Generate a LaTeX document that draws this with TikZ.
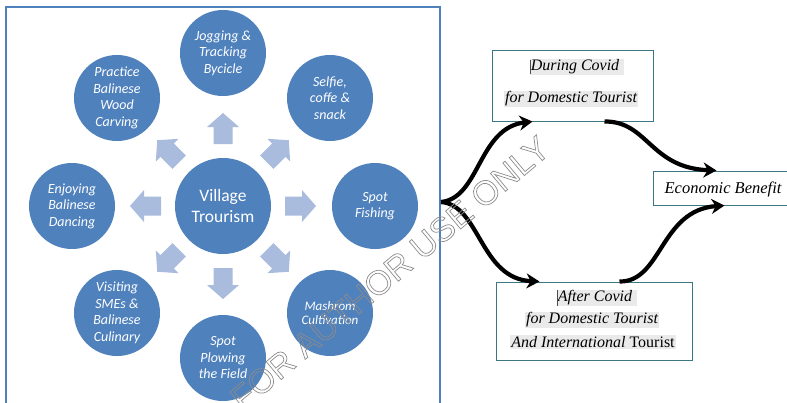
\documentclass[tikz,border=0pt]{standalone}
\usepackage{fontspec}
\setmainfont{Liberation Serif}
\newfontfamily\carl{Carlito}
\newfontfamily\wmfont{Liberation Sans}
\usetikzlibrary{arrows.meta,calc}
\definecolor{cblue}{HTML}{4F81BD}
\definecolor{ablue}{HTML}{A9BCDD}
\definecolor{bteal}{HTML}{3C7785}
\definecolor{hl}{HTML}{EAEAEA}
\newcommand{\outlinetext}[1]{\special{pdf:literal q 1 Tr 0.7 w}#1\special{pdf:literal Q}}
\begin{document}
\begin{tikzpicture}[x=1pt,y=-1pt,
  act/.style={circle,fill=cblue,minimum size=86pt,inner sep=0pt,text=white,align=center,
    font=\carl\itshape\fontsize{14}{16.5}\selectfont},
  hub/.style={circle,fill=cblue,minimum size=96pt,inner sep=0pt,text=white,align=center,
    font=\carl\fontsize{17.5}{20.5}\selectfont},
  blockarrow/.style={fill=ablue},
  framebox/.style={draw=cblue,line width=1.4pt},
  stagebox/.style={draw=bteal,line width=1pt,rectangle,inner sep=0pt},
  linetext/.style={fill=hl,inner sep=1pt,font=\itshape\fontsize{16}{18}\selectfont},
  cursor/.style={draw=black!70,line width=0.8pt},
  flow/.style={line width=4.2pt,-{Stealth[length=13pt,width=15pt]}},
  watermark/.style={font=\wmfont\fontsize{34}{34}\selectfont,text=black!45}
]
\clip (0,0) rectangle (787,402);
\fill[white] (0,0) rectangle (787,402);
% frame
\draw[framebox] (6,410) -- (6,7) -- (440,7) -- (440,410);
% hub and activities
\node[hub] (vt) at (223,206) {Village\\Trourism};
\node[act] (jog) at (223,53) {Jogging \&\\Tracking\\Bycicle};
\node[act] (prac) at (117,98) {Practice\\Balinese\\Wood\\Carving};
\node[act] (self) at (330,98) {Selfie,\\coffe \&\\snack};
\node[act] (enj) at (72,206) {Enjoying\\Balinese\\Dancing};
\node[act] (fish) at (375,206) {Spot\\Fishing};
\node[act] (vis) at (117,313) {Visiting\\SMEs \&\\Balinese\\Culinary};
\node[act,font=\carl\itshape\fontsize{13}{14.5}\selectfont] (mash) at (330,313) {Mashrom\\Cultivation};
\node[act] (plow) at (223,358) {Spot\\Plowing\\the Field};
% block arrows
\foreach \a in {0,45,...,315}{
  \fill[blockarrow,shift={(vt.center)},rotate=\a]
    (62,-9.5) -- (79,-9.5) -- (79,-16) -- (93,0) -- (79,16) -- (79,9.5) -- (62,9.5) -- cycle;
}
% right side boxes
\node[stagebox,minimum width=161pt,minimum height=71pt] (b1) at (572.5,85.5) {};
\node[linetext] (t1a) at (577,67) {During Covid\ \ };
\node[linetext] (t1b) at (571,99) {for Domestic Tourist};
\draw[cursor] ([xshift=1pt,yshift=-1pt]t1a.north west) -- ([xshift=1pt,yshift=1pt]t1a.south west);
\node[stagebox,minimum width=150pt,minimum height=34pt] (eb) at (728,188) {};
\node[font=\itshape\fontsize{16.5}{18}\selectfont,inner sep=0pt] (ebt) at (723,189) {Economic Benefit};
\node[stagebox,minimum width=196pt,minimum height=78pt] (b3) at (594,321) {};
\node[linetext] (t3a) at (597,298) {After Covid\ \ };
\node[linetext] (t3b) at (592,320) {for Domestic Tourist\ };
\node[linetext] (t3c) at (593,342) {And International \upshape Tourist};
\draw[cursor] ([xshift=1pt,yshift=-1pt]t3a.north west) -- ([xshift=1pt,yshift=1pt]t3a.south west);
% flows
\coordinate (split) at (441,202);
\draw[flow] (split) .. controls (480,198) and (478,128) .. ([xshift=41pt]b1.south west);
\draw[flow] (split) .. controls (480,205) and (480,279) .. ([xshift=44pt]b3.north west);
\draw[flow] ([xshift=113pt]b1.south west) .. controls (648,121) and (650,168) .. ([xshift=64pt]eb.north west);
\draw[flow] ([xshift=124pt]b3.north west) .. controls (662,282) and (660,210) .. ([xshift=72pt]eb.south west);
% watermark
\node[watermark,rotate=40] (wm) at (390,273) {\outlinetext{FOR AUTHOR USE ONLY}};
\end{tikzpicture}
\end{document}
